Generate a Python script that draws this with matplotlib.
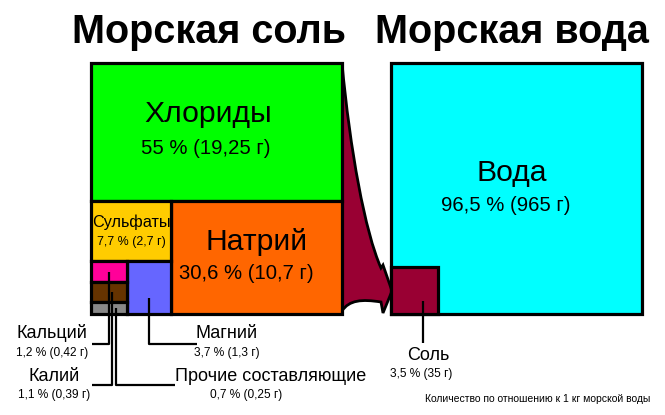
import numpy as np
import matplotlib
matplotlib.use("Agg")
from matplotlib import pyplot as plt
from matplotlib.patches import Rectangle, PathPatch
from matplotlib.path import Path

# ──────────────────────────────────────────────
# Data (grams per 1 kg of sea water)
# ──────────────────────────────────────────────
SALT_NAMES   = ["Хлориды", "Натрий", "Сульфаты", "Магний", "Кальций", "Калий", "Прочие составляющие"]
SALT_PCT     = [55, 30.6, 7.7, 3.7, 1.2, 1.1, 0.7]
SALT_GRAMS   = ["19,25", "10,7", "2,7", "1,3", "0,42", "0,39", "0,25"]
SALT_COLORS  = ["#00ff00", "#ff6600", "#ffcc00", "#6666ff", "#ff0099", "#663300", "#888888"]

WATER_NAMES  = ["Вода", "Соль"]
WATER_PCT    = [96.5, 3.5]
WATER_GRAMS  = ["965", "35"]
WATER_COLORS = ["#00ffff", "#990033"]

TITLES = ["Морская соль", "Морская вода"]
NOTE   = "Количество по отношению к 1 кг морской воды"

# ──────────────────────────────────────────────
# Layout
# ──────────────────────────────────────────────
W, H = 665, 415
SIDE = 251
LEFT0 = (91, 63)
RIGHT0 = (391, 63)
LW = 2.3
FONT = "Liberation Sans"
BIG, MID, LAB, SMALL = 21.7, 14.6, 13, 8.6


def pct_label(p, g):
    return f"{p:g} % ({g} г)".replace(".", ",")


def salt_layout(x0, y0, s, pct):
    """Slice-and-dice treemap of the salt square, returns rects (x, y, w, h)."""
    a = [s * s * p / 100 for p in pct]
    chl_h = a[0] / s
    rest_h = s - chl_h
    na_w = a[1] / rest_h
    col_w = s - na_w
    sul_h = a[2] / col_w
    bot_h = rest_h - sul_h
    mg_w = a[3] / bot_h
    sm_w = col_w - mg_w
    ca_h = a[4] / sm_w
    k_h = a[5] / sm_w
    ot_h = a[6] / sm_w
    yb = y0 + chl_h + sul_h
    return [
        (x0, y0, s, chl_h),
        (x0 + col_w, y0 + chl_h, na_w, rest_h),
        (x0, y0 + chl_h, col_w, sul_h),
        (x0 + sm_w, yb, mg_w, bot_h),
        (x0, yb, sm_w, ca_h),
        (x0, yb + ca_h, sm_w, k_h),
        (x0, yb + ca_h + k_h, sm_w, ot_h),
    ]


fig = plt.figure(figsize=(W / 100, H / 100), dpi=100)
ax = fig.add_axes([0, 0, 1, 1])
ax.set_xlim(0, W)
ax.set_ylim(H, 0)
ax.axis("off")

rects = salt_layout(LEFT0[0], LEFT0[1], SIDE, SALT_PCT)

# arrow from salt box to the salt share in water
arrow = Path(
    [(342, 63), (350, 150), (365, 232), (381, 268),
     (383, 265), (392, 291), (383, 313), (381, 302),
     (362, 299), (349, 300), (342, 311), (342, 63)],
    [Path.MOVETO, Path.CURVE4, Path.CURVE4, Path.CURVE4,
     Path.LINETO, Path.LINETO, Path.LINETO, Path.LINETO,
     Path.CURVE4, Path.CURVE4, Path.CURVE4, Path.CLOSEPOLY],
)
ax.add_patch(PathPatch(arrow, facecolor=WATER_COLORS[1], edgecolor="black", lw=2.0, zorder=1))

for (x, y, w, h), c in zip(rects, SALT_COLORS):
    ax.add_patch(Rectangle((x, y), w, h, facecolor=c, edgecolor="black", lw=LW, zorder=2))

# water box
ax.add_patch(Rectangle(RIGHT0, SIDE, SIDE, facecolor=WATER_COLORS[0], edgecolor="black", lw=LW, zorder=2))
salt_side = SIDE * np.sqrt(WATER_PCT[1] / 100)
salt_rect = (RIGHT0[0], RIGHT0[1] + SIDE - salt_side, salt_side, salt_side)
ax.add_patch(Rectangle(salt_rect[:2], salt_side, salt_side, facecolor=WATER_COLORS[1],
                       edgecolor="black", lw=LW, zorder=2))

# titles
ax.text(209, 43, TITLES[0], fontsize=28.5, fontweight="bold",
        family=FONT, ha="center", va="baseline")
ax.text(512, 43, TITLES[1], fontsize=28.5, fontweight="bold",
        family=FONT, ha="center", va="baseline")

txt = dict(family=FONT, ha="center", va="center", zorder=5)

# labels inside boxes
ax.text(208, 114, SALT_NAMES[0], fontsize=BIG, **txt)
ax.text(206, 148, pct_label(SALT_PCT[0], SALT_GRAMS[0]), fontsize=MID, **txt)

ax.text(257, 242, SALT_NAMES[1], fontsize=BIG, **txt)
ax.text(246, 273, pct_label(SALT_PCT[1], SALT_GRAMS[1]), fontsize=MID, **txt)

ax.text(131, 222, SALT_NAMES[2], fontsize=11.7, **txt)
ax.text(131, 242, pct_label(SALT_PCT[2], SALT_GRAMS[2]), fontsize=8.9, **txt)

ax.text(512, 173, WATER_NAMES[0], fontsize=BIG, **txt)
ax.text(506, 205, pct_label(WATER_PCT[0], WATER_GRAMS[0]), fontsize=MID, **txt)

# leader lines and outside labels
lead = dict(color="black", lw=1.6, zorder=4, solid_capstyle="butt")


def center(r):
    return r[0] + r[2] / 2, r[1] + r[3] / 2


cx, cy = center(rects[4])
ax.plot([cx, cx, 92], [cy, 344, 344], **lead)
ax.text(52, 333, SALT_NAMES[4], fontsize=LAB, **txt)
ax.text(52, 353, pct_label(SALT_PCT[4], SALT_GRAMS[4]), fontsize=SMALL, **txt)

cx, cy = center(rects[5])
ax.plot([cx + 3, cx + 3, 92], [cy, 385, 385], **lead)
ax.text(54, 376, SALT_NAMES[5], fontsize=LAB, **txt)
ax.text(54, 395, pct_label(SALT_PCT[5], SALT_GRAMS[5]), fontsize=SMALL, **txt)

cx, cy = center(rects[6])
ax.plot([cx + 7, cx + 7, 175], [cy, 385, 385], **lead)
ax.text(271, 376, SALT_NAMES[6], fontsize=LAB, **txt)
ax.text(246, 395, pct_label(SALT_PCT[6], SALT_GRAMS[6]), fontsize=SMALL, **txt)

cx, cy = center(rects[3])
ax.plot([cx, cx, 197], [cy + 10, 344, 344], **lead)
ax.text(227, 333, SALT_NAMES[3], fontsize=LAB, **txt)
ax.text(227, 353, pct_label(SALT_PCT[3], SALT_GRAMS[3]), fontsize=SMALL, **txt)

cx, cy = center(salt_rect)
ax.plot([cx + 9, cx + 9], [cy + 10, 343], **lead)
ax.text(428, 355, WATER_NAMES[1], fontsize=LAB, **txt)
ax.text(421, 374, pct_label(WATER_PCT[1], WATER_GRAMS[1]), fontsize=SMALL, **txt)

ax.text(538, 399, NOTE, fontsize=7.5, **txt)

fig.savefig("out.png", dpi=100)
